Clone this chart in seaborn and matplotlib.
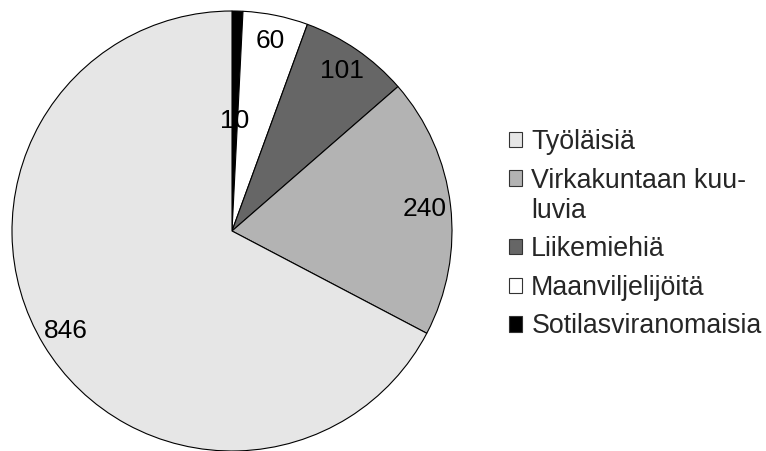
import matplotlib
matplotlib.use("Agg")
import matplotlib.pyplot as plt
from matplotlib.patches import Patch
import seaborn as sns

# data (slices drawn clockwise from 12 o'clock)
categories = ["Sotilasviranomaisia", "Maanviljelijöitä", "Liikemiehiä",
              "Virkakuntaan kuuluvia", "Työläisiä"]
values = [10, 60, 101, 240, 846]
colors = ["#000000", "#ffffff", "#666666", "#b3b3b3", "#e6e6e6"]
legend_order = ["Työläisiä", "Virkakuntaan kuuluvia", "Liikemiehiä",
                "Maanviljelijöitä", "Sotilasviranomaisia"]
legend_text = {"Virkakuntaan kuuluvia": "Virkakuntaan kuu-\nluvia"}

sns.set_style("white")
plt.rcParams["font.family"] = ["Liberation Sans", "DejaVu Sans"]

W, H = 766, 451
fig = plt.figure(figsize=(W / 100, H / 100), dpi=100)
cx, cy, r = 232, 231, 220
ax = fig.add_axes([(cx - r) / W, (H - cy - r) / H, 2 * r / W, 2 * r / H])

total = sum(values)
wedges, texts, autotexts = ax.pie(
    values, colors=colors, startangle=90, counterclock=False,
    autopct=lambda p: f"{round(p * total / 100):d}", pctdistance=0.88,
    wedgeprops=dict(edgecolor="black", linewidth=0.8),
    textprops=dict(fontsize=19, color="black"),
)
for w in wedges:
    w.set_clip_on(False)
# the tiny slice gets its label pulled in toward the centre
x, y = autotexts[0].get_position()
autotexts[0].set_position((x * 0.5 / 0.88, y * 0.5 / 0.88))

ax.set_xlim(-1, 1)
ax.set_ylim(-1, 1)
ax.set_aspect("equal")
ax.axis("off")

cmap = dict(zip(categories, colors))
handles = [Patch(facecolor=cmap[c], edgecolor="#333333", linewidth=0.8) for c in legend_order]
leg = fig.legend(handles, [legend_text.get(c, c) for c in legend_order],
                 loc="upper left", bbox_to_anchor=(509 / W, 1 - 129 / H),
                 frameon=False, fontsize=19.3, handlelength=0.5, handleheight=0.5,
                 handletextpad=0.33, labelspacing=0.47, borderaxespad=0, borderpad=0)
# put the square of the wrapped entry next to its first line
for h, c in zip(leg.legend_handles, legend_order):
    if "\n" in legend_text.get(c, c):
        h.set_y(h.get_y() + 13)

fig.savefig("out.png", dpi=100)
